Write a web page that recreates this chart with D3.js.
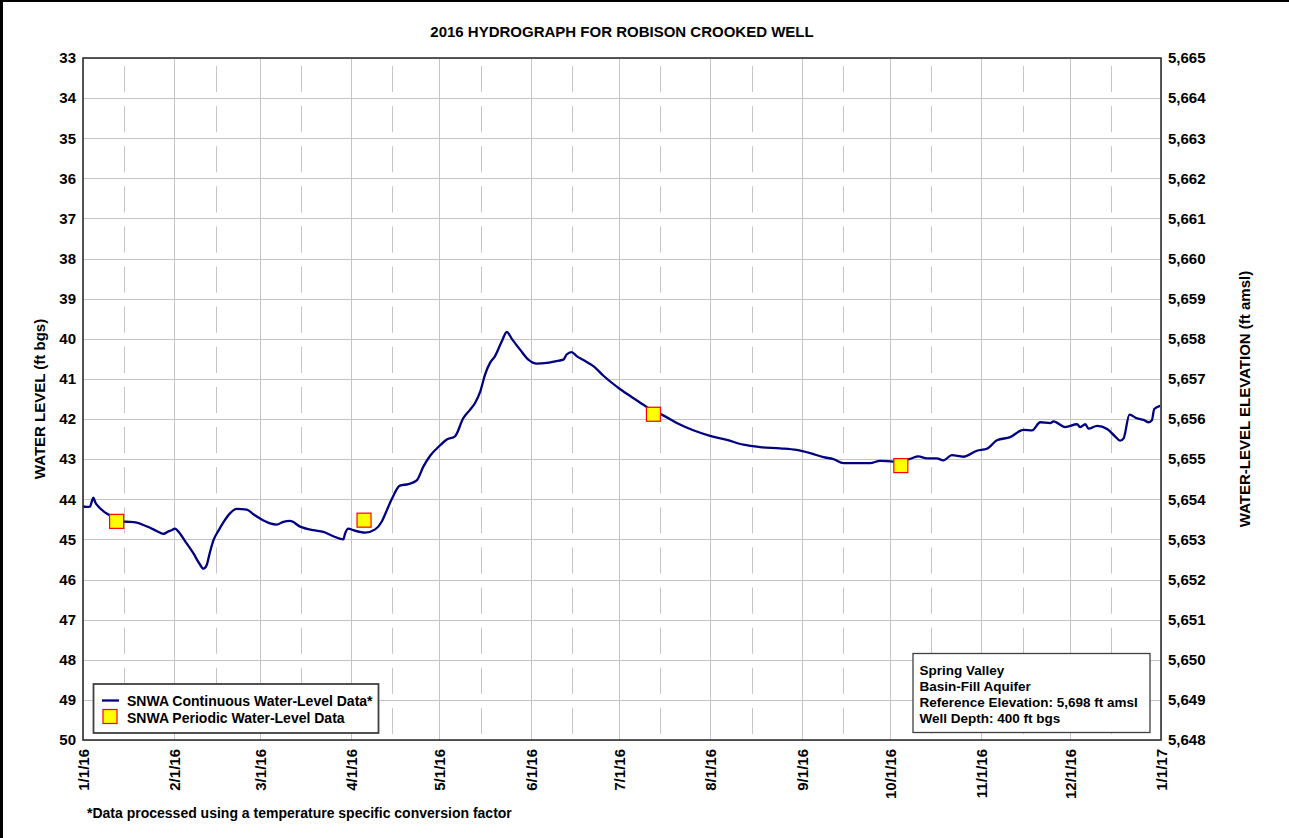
<!DOCTYPE html>
<html>
<head>
<meta charset="utf-8">
<script src="https://cdn.jsdelivr.net/npm/d3@7"></script>
<style>
  html, body { margin: 0; padding: 0; background: #fff; }
  svg text { font-family: "Liberation Sans", Arial, sans-serif; font-weight: bold; fill: #000; }
</style>
</head>
<body>
<svg id="chart" width="1289" height="838"></svg>
<script>
// Continuous logger record: days elapsed since 1/1/16 and depth to water (ft bgs)
const elapsedDays = [
  0, 1, 2.4, 3, 3.5, 4.2, 5.2, 7, 8.6, 11.4, 13, 14.8, 18.2, 20.5, 22.8, 25, 27.3, 29, 30.1, 31.2,
  32.9, 35, 37.5, 39.5, 40.9, 42, 43, 44.3, 46, 47.6, 49.9, 52.2, 55.6, 58, 60.1, 63.5, 65.8, 68, 70.3,
  73.7, 78.2, 81.6, 85, 88.4, 89, 90.1, 91.8, 95.8, 99.2, 101.4, 103, 104.8, 107.6, 110.5, 113.3,
  115.6, 117.8, 121.2, 123.5, 126.3, 129.1, 131.4, 133.1, 134.8, 136.5, 138.2, 139.9, 142.2, 143.9,
  145.6, 148.4, 151.2, 154.1, 157.5, 160.3, 163.1, 164.2, 165.9, 167.6, 169.9, 173.3, 176.7, 182.3,
  186.9, 190.8, 193.6, 196.5, 201.6, 207.2, 212.9, 218.6, 224.2, 229.9, 236.7, 242.3, 246.9, 251.4,
  254.8, 258.2, 263.8, 267.2, 270.6, 275.1, 280.8, 283.6, 286.5, 289.9, 292.1, 295, 298.9, 303.5,
  306.9, 310.3, 314.8, 319.3, 322.2, 325, 328.4, 329.5, 333.5, 337.5, 338.6, 340.3, 341.4, 344.3,
  347.7, 350.4, 352.1, 353.3, 355.3, 357.8, 360.1, 361.8, 362.9, 363.7, 365.7
];
const waterLevel = [
  44.17, 44.19, 44.18, 44.05, 43.96, 44.08, 44.18, 44.3, 44.38, 44.5, 44.55, 44.56, 44.58, 44.64, 44.71, 44.79, 44.86, 44.8, 44.77, 44.73,
  44.85, 45.08, 45.35, 45.6, 45.73, 45.64, 45.35, 45.02, 44.78, 44.58, 44.35, 44.24, 44.26, 44.38, 44.48, 44.6, 44.63, 44.56, 44.54,
  44.68, 44.77, 44.81, 44.92, 45.0, 44.85, 44.73, 44.77, 44.83, 44.75, 44.56, 44.3, 44.0, 43.66, 43.62, 43.53,
  43.18, 42.92, 42.66, 42.51, 42.43, 41.98, 41.77, 41.6, 41.33, 40.89, 40.6, 40.43, 40.06, 39.83,
  40.0, 40.27, 40.52, 40.62, 40.6, 40.56, 40.52, 40.39, 40.33, 40.43, 40.53, 40.68, 40.92, 41.25,
  41.48, 41.67, 41.8, 41.89, 42.1, 42.28, 42.42, 42.52, 42.64, 42.7, 42.73, 42.77, 42.85, 42.95,
  43.0, 43.1, 43.1, 43.1, 43.04, 43.06, 42.99, 42.93, 42.98, 42.98, 43.03, 42.9, 42.94, 42.79,
  42.74, 42.53, 42.45, 42.27, 42.28, 42.08, 42.1, 42.06, 42.2, 42.13, 42.2, 42.13, 42.24, 42.17,
  42.25, 42.43, 42.54, 42.48, 41.89, 41.98, 42.02, 42.08, 42.03, 41.75, 41.67
];

// Periodic (manual) measurements
const periodicDates = ["2016-01-12T10:00", "2016-04-05T10:00", "2016-07-12T16:00", "2016-10-04T16:00"];
const periodicLevel = [44.55, 44.52, 41.88, 43.16];

// Axis tick values
const levelTicks = [33, 34, 35, 36, 37, 38, 39, 40, 41, 42, 43, 44, 45, 46, 47, 48, 49, 50];
const referenceElevation = 5698;

const titleText = "2016 HYDROGRAPH FOR ROBISON CROOKED WELL";
const siteInfo = ["Spring Valley", "Basin-Fill Aquifer", "Reference Elevation: 5,698 ft amsl", "Well Depth: 400 ft bgs"];
const legendLabels = ["SNWA Continuous Water-Level Data*", "SNWA Periodic Water-Level Data"];
const footnote = "*Data processed using a temperature specific conversion factor";

const W = 1289, H = 838;
const plot = { left: 83, right: 1161, top: 58, bottom: 740 };

const svg = d3.select("#chart");
svg.append("rect").attr("width", W).attr("height", H).attr("fill", "#fff");

const start = new Date(2016, 0, 1);
const end = new Date(2017, 0, 1);
const x = d3.scaleTime().domain([start, end]).range([plot.left, plot.right]);
const y = d3.scaleLinear().domain([33, 50]).range([plot.top, plot.bottom]);
const yElev = d3.scaleLinear().domain([referenceElevation - 33, referenceElevation - 50]).range([plot.top, plot.bottom]);

const monthTicks = d3.timeMonth.range(start, d3.timeDay.offset(end, 1));
const midMonths = d3.timeMonth.range(start, end).map(d => d3.timeDay.offset(d, 14));

// Grid
const grid = svg.append("g").attr("stroke", "#c4c4c4").attr("stroke-width", 1);
levelTicks.forEach(v => {
  grid.append("line").attr("x1", plot.left).attr("x2", plot.right)
    .attr("y1", Math.round(y(v)) + 0.5).attr("y2", Math.round(y(v)) + 0.5);
});
monthTicks.forEach(d => {
  grid.append("line").attr("y1", plot.top).attr("y2", plot.bottom)
    .attr("x1", Math.round(x(d)) + 0.5).attr("x2", Math.round(x(d)) + 0.5);
});
// mid-month lines: broken segments between the level gridlines
midMonths.forEach(d => {
  for (let i = 0; i < levelTicks.length - 1; i++) {
    grid.append("line")
      .attr("x1", Math.round(x(d)) + 0.5).attr("x2", Math.round(x(d)) + 0.5)
      .attr("y1", y(levelTicks[i]) + 8).attr("y2", y(levelTicks[i + 1]) - 6);
  }
});

// Continuous series
const series = elapsedDays.map((d, i) => ({ date: new Date(start.getTime() + d * 864e5), level: waterLevel[i] }));
const line = d3.line().x(d => x(d.date)).y(d => y(d.level)).curve(d3.curveMonotoneX);
svg.append("path").datum(series).attr("d", line)
  .attr("fill", "none").attr("stroke", "#000080").attr("stroke-width", 2.3).attr("stroke-linejoin", "round");

// Periodic series
const parse = d3.isoParse;
const sq = 14;
svg.append("g").selectAll("rect").data(periodicDates.map((d, i) => ({ date: new Date(d), level: periodicLevel[i] })))
  .join("rect")
  .attr("x", d => x(d.date) - sq / 2).attr("y", d => y(d.level) - sq / 2)
  .attr("width", sq).attr("height", sq)
  .attr("fill", "#ffff00").attr("stroke", "#ff0000").attr("stroke-width", 1.2);

// Plot frame
svg.append("rect").attr("x", plot.left).attr("y", plot.top)
  .attr("width", plot.right - plot.left).attr("height", plot.bottom - plot.top)
  .attr("fill", "none").attr("stroke", "#303030").attr("stroke-width", 1.6);

// Axes
const leftAxis = svg.append("g").attr("transform", `translate(${plot.left},0)`)
  .call(d3.axisLeft(y).tickValues(levelTicks).tickSize(0).tickPadding(7).tickFormat(d3.format("d")));
const rightAxis = svg.append("g").attr("transform", `translate(${plot.right},0)`)
  .call(d3.axisRight(yElev).tickValues(levelTicks.map(v => referenceElevation - v)).tickSize(0).tickPadding(7).tickFormat(d3.format(",")));
const bottomAxis = svg.append("g").attr("transform", `translate(0,${plot.bottom})`)
  .call(d3.axisBottom(x).tickValues(monthTicks).tickSize(0).tickFormat(d3.timeFormat("%-m/%-d/%y")));
[leftAxis, rightAxis, bottomAxis].forEach(g => {
  g.select(".domain").remove();
  g.selectAll("text").attr("font-size", 15).attr("font-family", null).attr("fill", "#000");
});
bottomAxis.selectAll("text")
  .attr("transform", "rotate(-90)").attr("text-anchor", "end")
  .attr("x", -9).attr("y", 0).attr("dy", "0.36em");

// Titles
svg.append("text").attr("x", 622).attr("y", 37).attr("text-anchor", "middle")
  .attr("font-size", 15).text(titleText);
svg.append("text").attr("transform", `translate(40,${(plot.top + plot.bottom) / 2}) rotate(-90)`)
  .attr("text-anchor", "middle").attr("dy", "0.35em").attr("font-size", 15).text("WATER LEVEL (ft bgs)");
svg.append("text").attr("transform", `translate(1245,${(plot.top + plot.bottom) / 2}) rotate(-90)`)
  .attr("text-anchor", "middle").attr("dy", "0.35em").attr("font-size", 15).text("WATER-LEVEL ELEVATION (ft amsl)");

// Legend
const lg = svg.append("g");
lg.append("rect").attr("x", 93.5).attr("y", 684).attr("width", 285).attr("height", 49)
  .attr("fill", "#fff").attr("stroke", "#404040").attr("stroke-width", 1.8);
lg.append("line").attr("x1", 102).attr("x2", 119).attr("y1", 700.5).attr("y2", 700.5)
  .attr("stroke", "#000080").attr("stroke-width", 2.3);
lg.append("rect").attr("x", 103).attr("y", 709.5).attr("width", 14).attr("height", 14)
  .attr("fill", "#ffff00").attr("stroke", "#ff0000").attr("stroke-width", 1.2);
lg.selectAll("text.lab").data(legendLabels).join("text").attr("class", "lab")
  .attr("x", 127).attr("y", (d, i) => 706 + i * 17).attr("font-size", 14).text(d => d);

// Site info box
const ib = svg.append("g");
ib.append("rect").attr("x", 913).attr("y", 653.5).attr("width", 237).attr("height", 79)
  .attr("fill", "#fff").attr("stroke", "#404040").attr("stroke-width", 1.3);
ib.selectAll("text").data(siteInfo).join("text")
  .attr("x", 919.5).attr("y", (d, i) => 674.5 + i * 16.3).attr("font-size", 13.5).text(d => d);

// Footnote
svg.append("text").attr("x", 87).attr("y", 818).attr("font-size", 14).text(footnote);

// Page border
svg.append("line").attr("x1", 1.5).attr("x2", 1.5).attr("y1", 0).attr("y2", H).attr("stroke", "#000").attr("stroke-width", 3);
svg.append("line").attr("x1", 0).attr("x2", W).attr("y1", 1).attr("y2", 1).attr("stroke", "#000").attr("stroke-width", 2);
</script>
</body>
</html>
